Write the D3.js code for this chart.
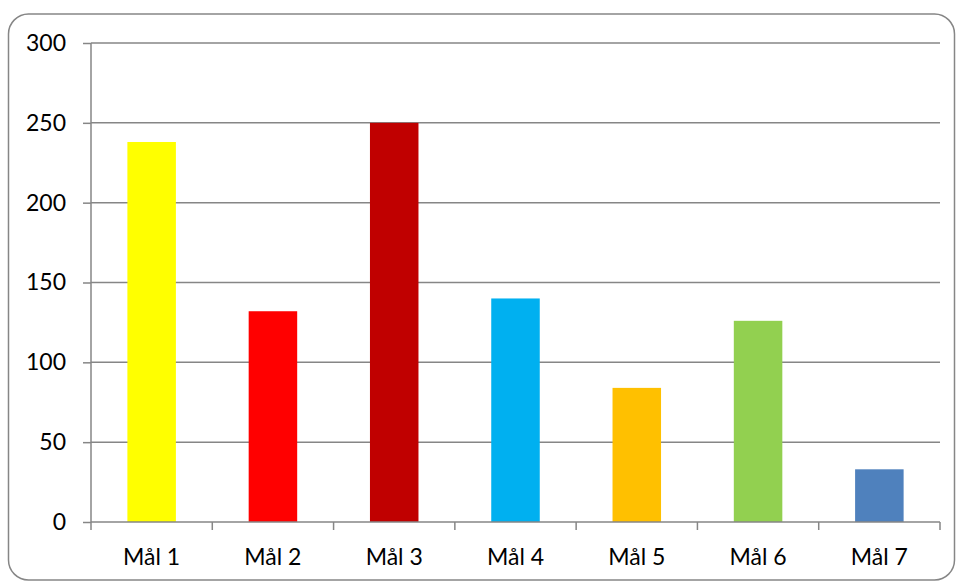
<!DOCTYPE html>
<html>
<head>
<meta charset="utf-8">
<script src="https://cdn.jsdelivr.net/npm/d3@7"></script>
<style>
  body { margin: 0; background: #fff; }
  text { font-family: Lato, "Open Sans", sans-serif; fill: #000; }
</style>
</head>
<body>
<div id="chart"></div>
<script>
const categories = ["Mål 1", "Mål 2", "Mål 3", "Mål 4", "Mål 5", "Mål 6", "Mål 7"];
const values = [238, 132, 250, 140, 84, 126, 33];
const barColors = ["#FFFF00", "#FF0000", "#C00000", "#00B0F0", "#FFC000", "#92D050", "#4F81BD"];
const yTicks = [0, 50, 100, 150, 200, 250, 300];

const w = 957, h = 581;
const margin = { top: 43, right: 17, bottom: 59, left: 91 };
const gridColor = "#868686";

const svg = d3.select("#chart")
    .append("svg")
    .attr("width", w)
    .attr("height", h);

// outer frame
svg.append("rect")
    .attr("x", 8.5)
    .attr("y", 14)
    .attr("width", 946)
    .attr("height", 566)
    .attr("rx", 20)
    .attr("fill", "#fff")
    .attr("stroke", gridColor)
    .attr("stroke-width", 1.5);

const x = d3.scaleBand()
    .domain(categories)
    .range([margin.left, w - margin.right])
    .paddingInner(0.6)
    .paddingOuter(0.3);

const y = d3.scaleLinear()
    .domain([0, 300])
    .range([h - margin.bottom, margin.top]);

// gridlines
svg.append("g")
    .selectAll("line")
    .data(yTicks.slice(1))
    .enter()
    .append("line")
    .attr("x1", margin.left)
    .attr("x2", w - margin.right)
    .attr("y1", d => y(d))
    .attr("y2", d => y(d))
    .attr("stroke", gridColor)
    .attr("stroke-width", 1.5);

// bars
svg.append("g")
    .selectAll("rect")
    .data(values)
    .enter()
    .append("rect")
    .attr("x", (d, i) => x(categories[i]))
    .attr("y", d => y(d))
    .attr("width", x.bandwidth())
    .attr("height", d => y(0) - y(d))
    .attr("fill", (d, i) => barColors[i]);

// y axis
const yAxis = svg.append("g")
    .attr("transform", "translate(" + margin.left + ",0)")
    .call(d3.axisLeft(y).tickValues(yTicks).tickSize(8).tickPadding(17));
yAxis.selectAll("line").attr("stroke", gridColor).attr("stroke-width", 1.5);
yAxis.select(".domain").attr("stroke", gridColor).attr("stroke-width", 1.5)
    .attr("d", "M0," + y(300) + "V" + y(0));
yAxis.selectAll("text")
    .style("font-family", "Lato, 'Open Sans', sans-serif")
    .style("font-size", "23px")
    .attr("fill", "#000");

// x axis with ticks at band boundaries
const step = x.step();
const bounds = d3.range(categories.length + 1).map(i => margin.left + i * (w - margin.right - margin.left) / categories.length);
const xAxis = svg.append("g");
xAxis.append("line")
    .attr("x1", margin.left)
    .attr("x2", w - margin.right)
    .attr("y1", y(0))
    .attr("y2", y(0))
    .attr("stroke", gridColor)
    .attr("stroke-width", 1.5);
xAxis.selectAll("line.tick")
    .data(bounds)
    .enter()
    .append("line")
    .attr("class", "tick")
    .attr("x1", d => d)
    .attr("x2", d => d)
    .attr("y1", y(0))
    .attr("y2", y(0) + 8)
    .attr("stroke", gridColor)
    .attr("stroke-width", 1.5);
xAxis.selectAll("text")
    .data(categories)
    .enter()
    .append("text")
    .attr("x", d => x(d) + x.bandwidth() / 2)
    .attr("y", y(0) + 43)
    .attr("text-anchor", "middle")
    .style("font-size", "23px")
    .text(d => d);
</script>
</body>
</html>
